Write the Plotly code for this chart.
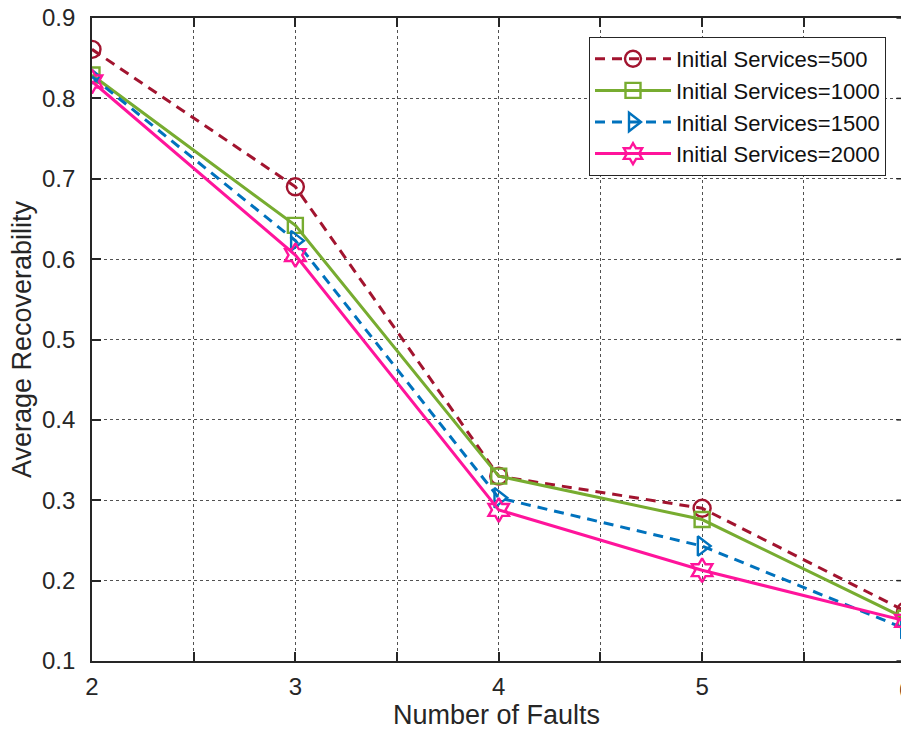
import plotly.graph_objects as go

faults = [2, 3, 4, 5, 6]
series_names = ["Initial Services=500", "Initial Services=1000",
                "Initial Services=1500", "Initial Services=2000"]
rec_500 = [0.861, 0.690, 0.330, 0.290, 0.162]
rec_1000 = [0.829, 0.642, 0.330, 0.276, 0.153]
rec_1500 = [0.827, 0.623, 0.303, 0.243, 0.140]
rec_2000 = [0.821, 0.605, 0.288, 0.213, 0.150]
x_ticks = [2, 2.5, 3, 3.5, 4, 4.5, 5, 5.5]
x_ticktext = ["2", "", "3", "", "4", "", "5", ""]
y_ticks = [0.1, 0.2, 0.3, 0.4, 0.5, 0.6, 0.7, 0.8, 0.9]

colors = ["#A2142F", "#77AC30", "#0072BD", "#FF149B"]
symbols = ["circle-open", "square-open", "triangle-right-open", "hexagram-open"]
sizes = [17, 15, 17, 18]
dashes = ["10px,7px", "solid", "10px,7px", "solid"]
values = [rec_500, rec_1000, rec_1500, rec_2000]

FONT = "Liberation Sans, Arial, Helvetica, sans-serif"
TXT = "#262626"
W, H = 901, 738
ML, MT, MB = 92, 18, 77
X_MAX = 5.978

fig = go.Figure()
for name, ys, c, s, sz, d in zip(series_names, values, colors, symbols, sizes, dashes):
    fig.add_trace(go.Scatter(
        x=faults, y=ys, name=name, mode="lines+markers",
        line=dict(color=c, width=3, dash=d),
        marker=dict(symbol=s, size=sz, color=c, line=dict(color=c, width=2.4)),
    ))

fig.update_layout(
    width=W, height=H,
    margin=dict(l=ML, r=0, t=MT, b=MB),
    paper_bgcolor="white", plot_bgcolor="white",
    font=dict(family=FONT, color=TXT, size=22),
    showlegend=True,
    legend=dict(
        x=(886 - ML) / (W - ML), y=1 - (37 - MT) / (H - MT - MB),
        xanchor="right", yanchor="top",
        bgcolor="white", bordercolor=TXT, borderwidth=1,
        font=dict(size=22, color="#111111"),
        itemwidth=76, tracegroupgap=0,
    ),
    xaxis=dict(
        range=[2, X_MAX], tickvals=x_ticks, ticktext=x_ticktext,
        ticks="inside", ticklen=9, tickwidth=1.5, tickcolor=TXT,
        showline=True, linecolor=TXT, linewidth=1.8, mirror="ticks",
        showgrid=True, gridcolor="rgba(38,38,38,0.8)", griddash="dot", gridwidth=1,
        zeroline=False, ticklabelstandoff=3,
        tickfont=dict(size=24, color=TXT),
        title=dict(text="Number of Faults", font=dict(size=27, color=TXT), standoff=6),
    ),
    yaxis=dict(
        range=[0.1, 0.9], tickvals=y_ticks, tickformat=".1f",
        ticks="inside", ticklen=9, tickwidth=1.5, tickcolor=TXT,
        showline=True, linecolor=TXT, linewidth=1.8, mirror=False,
        showgrid=True, gridcolor="rgba(38,38,38,0.8)", griddash="dot", gridwidth=1,
        zeroline=False, ticklabelstandoff=10,
        tickfont=dict(size=24, color=TXT),
        title=dict(text="Average Recoverability", font=dict(size=27, color=TXT), standoff=2),
    ),
)

# right-side mirror ticks (the right frame line itself lies beyond the image edge)
right_edge_frac = (6 - 2) / (X_MAX - 2)
tick_frac = 9 / (W - ML)
for yv in y_ticks:
    fig.add_shape(type="line", xref="paper", yref="y",
                  x0=right_edge_frac - tick_frac, x1=right_edge_frac, y0=yv, y1=yv,
                  line=dict(color=TXT, width=1.5))

# partially visible "6" tick label at the cut edge
fig.add_annotation(x=right_edge_frac, xref="paper", y=0, yref="paper",
                   yshift=-13, text="6", showarrow=False, xanchor="center", yanchor="top",
                   font=dict(size=24, color=TXT))

fig.write_html("out.html")
